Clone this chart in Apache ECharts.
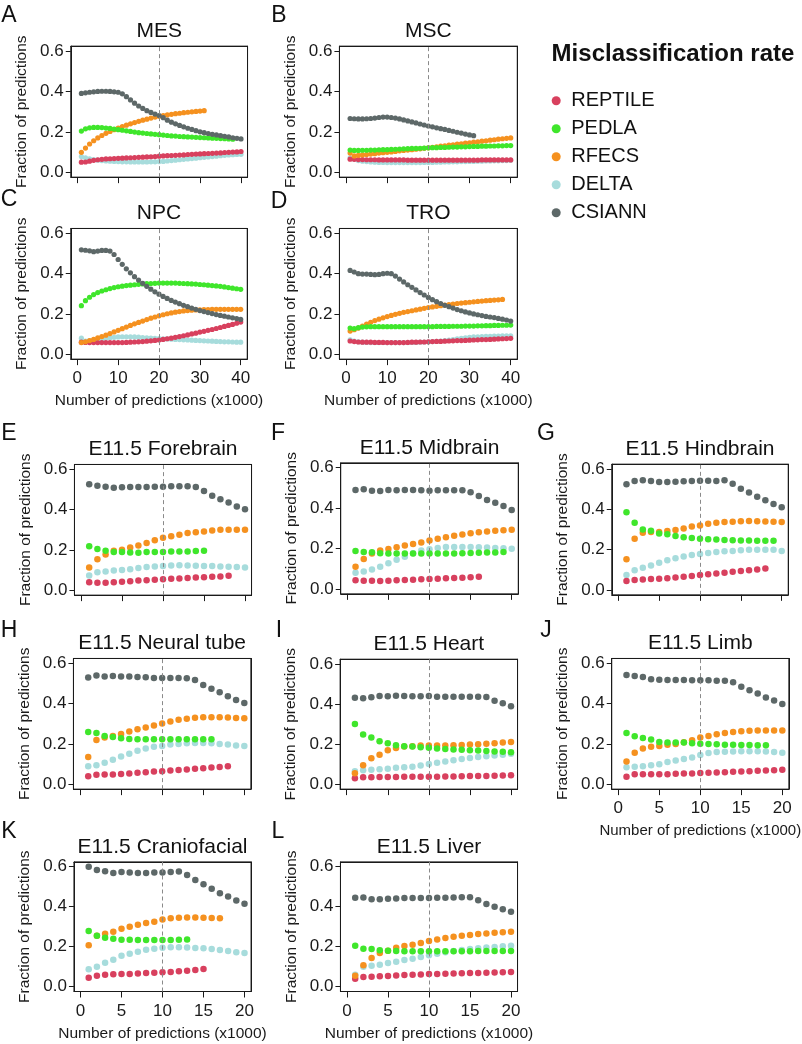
<!DOCTYPE html>
<html>
<head>
<meta charset="UTF-8">
<title>Misclassification rate</title>
<script src="https://cdn.jsdelivr.net/npm/echarts@6.0.0/dist/echarts.min.js"></script>
<style>
    *{ margin:0; padding:0; }
    #main{ width:802px; height:1044px; background:#fff; }
</style>
</head>
<body>
<div id="main"></div>
<script>
var FONT = 'Liberation Sans, Arial, Helvetica, sans-serif';
var INK = '#1a1a1a';
var methods = ['REPTILE', 'PEDLA', 'RFECS', 'DELTA', 'CSIANN'];
var methodColors = ['#d8405e', '#3fe62b', '#f5911f', '#a7dcdc', '#5d6868'];
// draw order (last on top)
var drawOrder = ['DELTA', 'REPTILE', 'RFECS', 'PEDLA', 'CSIANN'];

var topTicks = [0, 10, 20, 30, 40];
var bottomTicks = [0, 5, 10, 15, 20];
var yTicks = [0, 0.2, 0.4, 0.6];

// ---- cell lines, 1..40 (x1000 predictions) ----
var MES = {
    CSIANN: [.390,.393,.396,.398,.400,.401,.401,.400,.398,.396,.388,.374,.358,.342,.328,.316,.305,.296,.288,.281,.270,.258,.248,.240,.232,.225,.218,.212,.206,.200,.196,.192,.188,.185,.181,.178,.175,.171,.168,.165],
    RFECS: [.099,.120,.140,.156,.170,.182,.193,.202,.211,.219,.226,.233,.240,.246,.252,.258,.263,.268,.273,.277,.281,.284,.287,.290,.292,.295,.297,.299,.301,.303,.305],
    PEDLA: [.204,.215,.220,.222,.222,.221,.219,.217,.214,.211,.208,.205,.202,.199,.196,.194,.192,.190,.188,.186,.184,.182,.180,.179,.177,.176,.175,.174,.173,.172,.171,.170,.169,.168,.167,.166,.165,.164],
    REPTILE: [.050,.051,.055,.059,.062,.064,.066,.067,.068,.069,.070,.071,.072,.073,.074,.075,.076,.077,.078,.080,.081,.082,.083,.084,.085,.086,.088,.089,.090,.091,.092,.093,.094,.095,.096,.098,.099,.100,.101,.103],
    DELTA: [.078,.072,.067,.063,.060,.058,.056,.055,.054,.053,.052,.052,.051,.051,.051,.051,.051,.052,.052,.053,.054,.056,.058,.060,.062,.064,.066,.068,.070,.072,.074,.076,.078,.080,.082,.084,.086,.087,.088,.089]
};
var MSC = {
    CSIANN: [.266,.265,.264,.264,.265,.266,.268,.271,.273,.273,.271,.268,.264,.259,.254,.249,.244,.239,.234,.229,.225,.220,.216,.212,.207,.203,.198,.194,.189,.185,.181],
    RFECS: [.095,.081,.084,.086,.088,.090,.092,.095,.097,.099,.101,.103,.106,.108,.110,.112,.114,.116,.119,.121,.124,.126,.129,.131,.134,.136,.139,.141,.144,.146,.149,.151,.154,.156,.159,.161,.164,.166,.168,.170],
    PEDLA: [.110,.108,.108,.109,.109,.110,.110,.111,.112,.112,.113,.114,.115,.116,.117,.118,.118,.119,.120,.121,.122,.122,.123,.123,.124,.125,.125,.126,.126,.127,.128,.128,.129,.129,.130,.130,.131,.131,.132,.132],
    REPTILE: [.065,.064,.063,.063,.062,.062,.062,.061,.061,.061,.061,.061,.061,.061,.060,.060,.060,.060,.060,.060,.060,.060,.060,.060,.060,.060,.060,.060,.060,.060,.060,.060,.061,.061,.061,.061,.061,.061,.061,.061],
    DELTA: [.072,.064,.058,.055,.053,.051,.050,.049,.049,.048,.048,.048,.048,.048,.048,.048,.048,.048,.049,.049,.049,.050,.050,.051,.051,.052,.052,.053,.053,.054,.054,.055,.055,.056,.056,.057,.057,.058,.058,.059]
};
var NPC = {
    CSIANN: [.518,.516,.513,.509,.512,.515,.515,.512,.495,.470,.446,.424,.404,.385,.368,.352,.337,.323,.310,.298,.287,.277,.267,.259,.251,.243,.236,.229,.223,.217,.212,.207,.202,.197,.193,.189,.185,.181,.177,.173],
    PEDLA: [.241,.266,.283,.296,.306,.314,.320,.326,.331,.335,.338,.341,.343,.345,.347,.349,.350,.351,.352,.353,.353,.353,.353,.353,.352,.351,.350,.349,.348,.346,.345,.343,.341,.339,.337,.334,.331,.328,.325,.322],
    RFECS: [.058,.062,.068,.074,.081,.088,.095,.103,.111,.119,.127,.135,.143,.151,.158,.165,.172,.179,.185,.191,.196,.201,.205,.209,.212,.215,.217,.219,.220,.221,.222,.222,.223,.223,.223,.223,.223,.223,.223,.223],
    REPTILE: [.060,.059,.058,.058,.058,.058,.058,.058,.058,.058,.058,.059,.060,.061,.062,.063,.065,.067,.069,.071,.074,.077,.080,.084,.088,.092,.096,.101,.105,.110,.114,.119,.123,.128,.133,.138,.143,.148,.154,.160],
    DELTA: [.080,.066,.068,.071,.074,.077,.080,.082,.084,.086,.087,.087,.087,.086,.085,.083,.082,.080,.079,.078,.077,.076,.075,.074,.073,.072,.071,.070,.069,.068,.067,.066,.065,.064,.063,.062,.062,.061,.060,.060]
};
var TRO = {
    CSIANN: [.416,.408,.400,.398,.398,.396,.395,.396,.400,.402,.400,.388,.373,.359,.345,.332,.319,.306,.294,.282,.271,.261,.252,.243,.236,.229,.222,.216,.210,.205,.200,.196,.192,.188,.185,.182,.178,.174,.170,.165],
    RFECS: [.115,.122,.130,.140,.150,.159,.167,.174,.181,.187,.193,.198,.203,.208,.212,.216,.220,.224,.228,.232,.235,.238,.241,.244,.247,.249,.252,.254,.256,.258,.260,.262,.264,.266,.267,.269,.270,.272],
    PEDLA: [.130,.127,.132,.135,.136,.137,.137,.137,.137,.137,.137,.137,.137,.137,.137,.137,.137,.137,.137,.137,.137,.138,.138,.138,.138,.139,.139,.139,.140,.140,.140,.141,.141,.142,.142,.143,.143,.144,.144,.145],
    REPTILE: [.066,.063,.061,.060,.060,.060,.059,.059,.059,.058,.058,.058,.058,.058,.059,.060,.060,.061,.061,.062,.063,.064,.064,.065,.066,.067,.068,.068,.069,.070,.071,.072,.073,.073,.074,.075,.076,.077,.078,.079],
    DELTA: [.072,.066,.062,.060,.059,.058,.058,.058,.058,.058,.058,.058,.058,.058,.058,.059,.059,.060,.061,.062,.063,.064,.066,.068,.070,.073,.076,.079,.082,.084,.086,.087,.088,.089,.089,.090,.090,.091,.091,.091]
};

// ---- E11.5 tissues, 1..20 (x1000 predictions) ----
var FOREBRAIN = {
    CSIANN: [.526,.519,.514,.509,.511,.512,.512,.512,.514,.514,.516,.516,.516,.512,.493,.469,.451,.435,.415,.402],
    RFECS: [.113,.154,.178,.196,.201,.212,.222,.235,.248,.260,.268,.276,.284,.288,.292,.297,.300,.300,.300,.300],
    PEDLA: [.218,.205,.196,.190,.190,.188,.186,.190,.190,.190,.192,.192,.193,.195,.196],
    DELTA: [.073,.090,.093,.098,.101,.105,.110,.115,.118,.121,.123,.124,.123,.122,.121,.120,.118,.117,.115,.113],
    REPTILE: [.040,.037,.038,.040,.042,.045,.048,.050,.052,.055,.057,.059,.061,.063,.065,.067,.069,.072]
};
var MIDBRAIN = {
    CSIANN: [.490,.493,.486,.485,.490,.488,.490,.490,.488,.486,.488,.488,.488,.488,.478,.460,.440,.427,.410,.391],
    RFECS: [.110,.148,.175,.190,.198,.206,.215,.222,.230,.240,.248,.256,.263,.270,.276,.281,.285,.288,.291,.293],
    PEDLA: [.188,.183,.182,.177,.176,.175,.175,.175,.175,.175,.175,.175,.176,.177,.178,.179,.180,.181,.183],
    DELTA: [.080,.087,.097,.110,.127,.145,.160,.177,.190,.197,.203,.208,.208,.208,.208,.207,.205,.203,.201,.199],
    REPTILE: [.043,.041,.041,.040,.041,.043,.045,.046,.048,.050,.051,.053,.054,.056,.058,.060]
};
var HINDBRAIN = {
    CSIANN: [.524,.540,.544,.540,.536,.536,.537,.539,.540,.542,.542,.540,.544,.527,.502,.483,.463,.445,.426,.410],
    PEDLA: [.385,.334,.300,.294,.280,.276,.268,.262,.258,.254,.252,.250,.248,.247,.245,.245,.244,.244,.244],
    RFECS: [.152,.254,.284,.287,.288,.292,.298,.305,.315,.320,.328,.333,.337,.339,.341,.342,.341,.340,.339,.337],
    DELTA: [.075,.098,.110,.122,.135,.148,.158,.166,.173,.178,.184,.188,.192,.194,.197,.199,.200,.200,.199,.194],
    REPTILE: [.045,.050,.052,.054,.056,.058,.062,.066,.070,.074,.078,.082,.086,.090,.094,.098,.102,.106]
};
var NEURALTUBE = {
    CSIANN: [.529,.539,.534,.537,.534,.534,.532,.531,.527,.527,.527,.527,.526,.517,.493,.474,.456,.436,.418,.403],
    PEDLA: [.259,.255,.240,.235,.228,.225,.224,.224,.224,.224,.224,.224,.224,.224,.224,.224],
    RFECS: [.135,.220,.232,.240,.250,.262,.273,.282,.292,.302,.312,.320,.325,.330,.332,.333,.332,.331,.329,.327],
    DELTA: [.090,.094,.107,.122,.138,.152,.166,.177,.186,.190,.197,.200,.203,.205,.205,.203,.200,.197,.193,.190],
    REPTILE: [.040,.047,.048,.048,.051,.054,.057,.060,.063,.065,.068,.071,.074,.077,.080,.083,.086,.089]
};
var HEART = {
    CSIANN: [.432,.429,.434,.440,.439,.442,.440,.439,.439,.440,.437,.437,.437,.437,.437,.437,.435,.417,.404,.389],
    PEDLA: [.301,.248,.233,.215,.205,.195,.190,.188,.185,.182,.178,.176,.174,.172,.170,.168,.166,.164,.162,.160],
    RFECS: [.055,.095,.130,.148,.170,.181,.188,.190,.193,.194,.194,.194,.195,.196,.198,.200,.202,.205,.208,.211],
    DELTA: [.065,.070,.073,.075,.078,.082,.085,.088,.094,.101,.108,.114,.120,.126,.131,.136,.140,.144,.148,.152],
    REPTILE: [.030,.035,.035,.037,.037,.037,.038,.038,.038,.038,.038,.039,.039,.040,.041,.041,.042,.043,.044,.045]
};
var LIMB = {
    CSIANN: [.542,.537,.532,.521,.519,.517,.517,.517,.516,.516,.516,.514,.514,.506,.484,.466,.450,.431,.415,.398],
    PEDLA: [.255,.238,.230,.222,.210,.207,.207,.207,.203,.201,.200,.198,.196,.196,.195,.195,.194,.194],
    RFECS: [.113,.157,.177,.186,.190,.196,.200,.208,.218,.232,.240,.248,.254,.259,.263,.265,.267,.267,.267,.267],
    DELTA: [.085,.087,.090,.095,.100,.110,.118,.125,.133,.145,.155,.160,.162,.163,.164,.164,.164,.163,.160,.157],
    REPTILE: [.037,.050,.050,.050,.050,.050,.052,.053,.054,.056,.057,.058,.060,.062,.064,.065,.067,.069,.070,.072]
};
var CRANIOFACIAL = {
    CSIANN: [.600,.583,.577,.569,.574,.571,.569,.569,.571,.571,.574,.576,.559,.534,.512,.490,.467,.451,.431,.415],
    RFECS: [.207,.255,.265,.275,.290,.300,.310,.318,.325,.336,.342,.345,.346,.346,.345,.343,.342],
    PEDLA: [.278,.255,.245,.240,.235,.235,.233,.234,.233,.233,.234,.235,.236],
    DELTA: [.087,.100,.120,.135,.155,.165,.175,.185,.190,.195,.197,.197,.196,.194,.192,.188,.183,.178,.172,.168],
    REPTILE: [.045,.055,.060,.062,.063,.064,.066,.068,.070,.072,.074,.077,.080,.084,.088]
};
var LIVER = {
    CSIANN: [.445,.446,.437,.437,.440,.441,.443,.443,.443,.443,.445,.445,.446,.447,.447,.432,.413,.400,.387,.375],
    RFECS: [.055,.107,.143,.168,.180,.195,.203,.210,.218,.228,.236,.243,.250,.255,.258,.263,.266,.270,.272,.275],
    PEDLA: [.205,.190,.188,.182,.180,.178,.177,.177,.177,.177,.177,.177,.177,.177,.177,.178,.178,.178,.178,.178],
    DELTA: [.060,.100,.105,.110,.118,.125,.133,.140,.148,.157,.165,.172,.178,.183,.188,.192,.196,.199,.202,.205],
    REPTILE: [.040,.048,.050,.052,.054,.056,.058,.060,.061,.063,.064,.065,.066,.067,.068,.069,.070,.071,.072,.073]
};

// panel layout: box = [x of 0, x of max, y of 0.6, y of 0.0] in px
var panels = [
    {letter: 'A', title: 'MES', data: MES, xmax: 40, cut: 20, box: [77.3, 241, 51, 172.3], labels: false, lpos: [9, 16]},
    {letter: 'B', title: 'MSC', data: MSC, xmax: 40, cut: 20, box: [346, 510.7, 51, 172.3], labels: false, lpos: [279, 16]},
    {letter: 'C', title: 'NPC', data: NPC, xmax: 40, cut: 20, box: [77.3, 240.7, 233.3, 354.3], labels: true, lpos: [9, 200]},
    {letter: 'D', title: 'TRO', data: TRO, xmax: 40, cut: 20, box: [346, 510.7, 233.3, 354.3], labels: true, lpos: [279, 202]},
    {letter: 'E', title: 'E11.5 Forebrain', data: FOREBRAIN, xmax: 20, cut: 10, box: [81, 245, 469.3, 590.3], labels: false, lpos: [9, 434]},
    {letter: 'F', title: 'E11.5 Midbrain', data: MIDBRAIN, xmax: 20, cut: 10, box: [347.3, 511.7, 467.7, 589], labels: false, lpos: [278, 434]},
    {letter: 'G', title: 'E11.5 Hindbrain', data: HINDBRAIN, xmax: 20, cut: 10, box: [618.3, 781.7, 469, 590], labels: false, lpos: [546, 434]},
    {letter: 'H', title: 'E11.5 Neural tube', data: NEURALTUBE, xmax: 20, cut: 10, box: [80, 244.3, 663.3, 784.3], labels: false, lpos: [9, 631]},
    {letter: 'I', title: 'E11.5 Heart', data: HEART, xmax: 20, cut: 10, box: [346.7, 511, 664, 784.3], labels: false, lpos: [279, 631]},
    {letter: 'J', title: 'E11.5 Limb', data: LIMB, xmax: 20, cut: 10, box: [618.3, 782.3, 663.3, 784.3], labels: true, lpos: [546, 631], nameSize: 15},
    {letter: 'K', title: 'E11.5 Craniofacial', data: CRANIOFACIAL, xmax: 20, cut: 10, box: [80.5, 244.5, 866.7, 986.7], labels: true, lpos: [9, 832]},
    {letter: 'L', title: 'E11.5 Liver', data: LIVER, xmax: 20, cut: 10, box: [347, 511, 866.7, 986.7], labels: true, lpos: [278, 832]}
];

var grids = [], xAxes = [], yAxes = [], series = [], graphics = [];

panels.forEach(function (p, pi) {
    var b = p.box;
    var w = b[1] - b[0], h = b[3] - b[2];
    var frame = {left: b[0] - 0.04 * w, top: b[2] - 0.04 * h, width: w * 1.08, height: h * 1.08};
    var ticks = p.xmax === 40 ? topTicks : bottomTicks;
    var small = p.xmax === 40;

    grids.push({
        left: frame.left, top: frame.top, width: frame.width, height: frame.height,
        show: true, borderWidth: 1, borderColor: INK, backgroundColor: 'rgba(0,0,0,0)',
        outerBoundsMode: 'none'
    });
    // top/right edges of the box come from the second (hidden-label) axes
    xAxes.push({
        gridIndex: pi, type: 'value', position: 'bottom', min: -0.04 * p.xmax, max: 1.04 * p.xmax,
        splitLine: {show: false},
        axisLine: {show: true, onZero: false, lineStyle: {color: INK, width: 1}},
        axisTick: {show: true, customValues: ticks, length: 6, lineStyle: {color: INK, width: 1}},
        axisLabel: {show: p.labels, customValues: ticks, fontSize: 17, color: INK, fontFamily: FONT, margin: 11},
        name: p.labels ? 'Number of predictions (x1000)' : '',
        nameLocation: 'middle', nameGap: 34,
        nameTextStyle: {fontSize: p.nameSize || 15.5, color: INK, fontFamily: FONT}
    });
    xAxes.push({
        gridIndex: pi, type: 'value', position: 'top', min: -0.04 * p.xmax, max: 1.04 * p.xmax,
        splitLine: {show: false},
        axisLine: {show: true, onZero: false, lineStyle: {color: INK, width: 1}},
        axisTick: {show: false}, axisLabel: {show: false}
    });
    yAxes.push({
        gridIndex: pi, type: 'value', position: 'left', min: -0.024, max: 0.624,
        splitLine: {show: false},
        axisLine: {show: true, onZero: false, lineStyle: {color: INK, width: 1}},
        axisTick: {show: true, customValues: yTicks, length: 5, lineStyle: {color: INK, width: 1}},
        axisLabel: {customValues: yTicks, fontSize: 17, color: INK, fontFamily: FONT, margin: 7,
            formatter: function (v) { return v.toFixed(1); }},
        name: 'Fraction of predictions', nameLocation: 'middle', nameGap: 41,
        nameTextStyle: {fontSize: 15.5, color: INK, fontFamily: FONT}
    });
    yAxes.push({
        gridIndex: pi, type: 'value', position: 'right', min: -0.024, max: 0.624,
        splitLine: {show: false},
        axisLine: {show: true, onZero: false, lineStyle: {color: INK, width: 1}},
        axisTick: {show: false}, axisLabel: {show: false}
    });

    drawOrder.forEach(function (m) {
        var vals = p.data[m];
        var pts = vals.map(function (v, i) { return [i + 1, v]; });
        var s = {
            name: m, type: 'scatter', xAxisIndex: 2 * pi, yAxisIndex: 2 * pi,
            data: pts, symbolSize: small ? 5.2 : 6.5, clip: false,
            itemStyle: {color: methodColors[methods.indexOf(m)], opacity: 1},
            emphasis: {disabled: true}, animation: false
        };
        if (m === 'CSIANN') {
            s.markLine = {
                silent: true, symbol: 'none', animation: false,
                label: {show: false},
                lineStyle: {type: [4, 3], color: '#8a8a8a', width: 1},
                data: [{xAxis: p.cut}]
            };
        }
        series.push(s);
    });

    graphics.push({
        type: 'text', x: frame.left + frame.width / 2, y: frame.top - 15,
        style: {text: p.title, font: '21px ' + FONT, fill: '#111', align: 'center', verticalAlign: 'middle'}
    });
    graphics.push({
        type: 'text', x: p.lpos[0], y: p.lpos[1],
        style: {text: p.letter, font: '23px ' + FONT, fill: '#111', align: 'center', verticalAlign: 'middle'}
    });
});

graphics.push({
    type: 'text', x: 673, y: 54,
    style: {text: 'Misclassification rate', font: 'bold 24px ' + FONT, fill: '#111', align: 'center', verticalAlign: 'middle'}
});

var myChart = echarts.init(document.getElementById('main'), null, {renderer: 'canvas'});
myChart.setOption({
    animation: false,
    backgroundColor: '#fff',
    textStyle: {fontFamily: FONT},
    grid: grids,
    xAxis: xAxes,
    yAxis: yAxes,
    legend: {
        data: methods, orient: 'vertical', left: 546.7, top: 85.7,
        icon: 'circle', itemWidth: 20, itemHeight: 9, itemGap: 8,
        textStyle: {fontSize: 20, color: '#111', fontFamily: FONT}
    },
    graphic: graphics,
    series: series
});
</script>
</body>
</html>
